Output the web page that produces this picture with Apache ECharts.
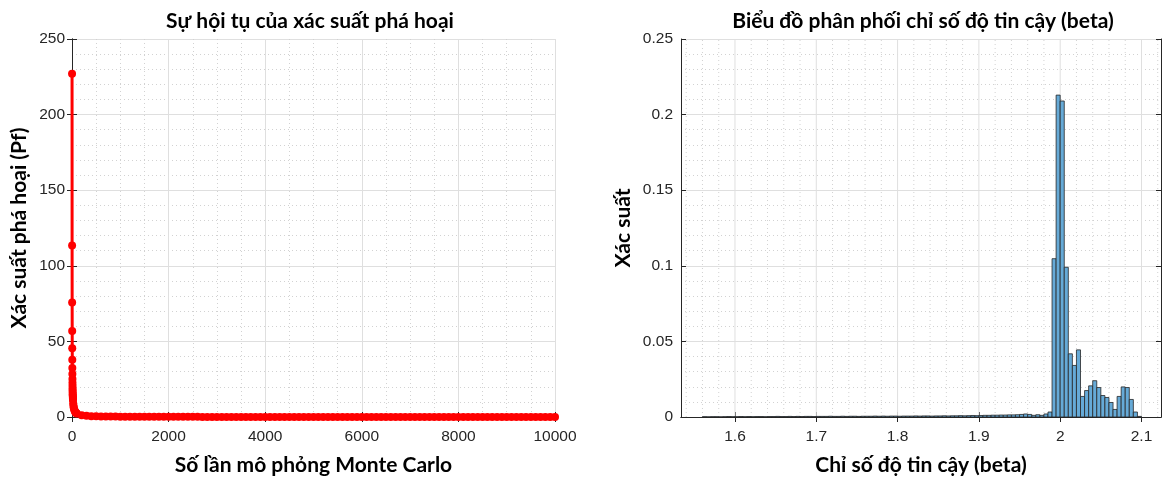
<!DOCTYPE html>
<html><head><meta charset="utf-8">
<script src="https://cdn.jsdelivr.net/npm/echarts@6/dist/echarts.min.js"></script>
<style>html,body{margin:0;padding:0;background:#fff}#c{width:1164px;height:481px}</style>
</head><body><div id="c"></div>
<script>
// ---------- DATA ----------
const leftTitle = 'Sự hội tụ của xác suất phá hoại';
const leftXName = 'Số lần mô phỏng Monte Carlo';
const leftYName = 'Xác suất phá hoại (Pf)';
const rightTitle = 'Biểu đồ phân phối chỉ số độ tin cậy (beta)';
const rightXName = 'Chỉ số độ tin cậy (beta)';
const rightYName = 'Xác suất';

// Monte Carlo convergence: number of runs and estimated Pf
const runCounts = [1,2,3,4,5,6,7,8,9,10,11,12,13,14,15,16,17,18,19,20,25,30,35,40,50,60,70,80,90,
  100,200,300,400,500,600,700,800,900,1000,1100,1200,1300,1400,1500,1600,1700,1800,1900,2000,
  2100,2200,2300,2400,2500,2600,2700,2800,2900,3000,3100,3200,3300,3400,3500,3600,3700,3800,3900,4000,
  4100,4200,4300,4400,4500,4600,4700,4800,4900,5000,5100,5200,5300,5400,5500,5600,5700,5800,5900,6000,
  6100,6200,6300,6400,6500,6600,6700,6800,6900,7000,7100,7200,7300,7400,7500,7600,7700,7800,7900,8000,
  8100,8200,8300,8400,8500,8600,8700,8800,8900,9000,9100,9200,9300,9400,9500,9600,9700,9800,9900,10000];
const pfValues = [227,113.5,75.7,56.8,45.4,37.8,32.4,28.4,25.2,22.7,20.6,18.9,17.5,16.2,15.1,14.2,13.4,12.6,11.9,11.4,9.1,7.6,6.5,5.7,4.5,3.8,3.2,2.8,2.5,
  2.27,1.14,0.76,0.57,0.45,0.38,0.32,0.28,0.25,0.23,0.21,0.19,0.17,0.16,0.15,0.14,0.13,0.13,0.12,0.11,
  0.11,0.10,0.10,0.09,0.09,0.09,0.08,0.08,0.08,0.08,0.07,0.07,0.07,0.07,0.06,0.06,0.06,0.06,0.06,0.06,
  0.06,0.05,0.05,0.05,0.05,0.05,0.05,0.05,0.05,0.05,0.04,0.04,0.04,0.04,0.04,0.04,0.04,0.04,0.04,0.04,
  0.04,0.04,0.04,0.04,0.04,0.03,0.03,0.03,0.03,0.03,0.03,0.03,0.03,0.03,0.03,0.03,0.03,0.03,0.03,0.03,
  0.03,0.03,0.03,0.03,0.03,0.03,0.03,0.03,0.03,0.02,0.02,0.02,0.02,0.02,0.02,0.02,0.02,0.02,0.02,0.02];

// Histogram of beta: first bin edge, bin width, probability per bin
const betaBinStart = 1.56;
const betaBinWidth = 0.005;
const betaProb = [
  0.0002,0.0001,0.0002,0.0002,0.0001,0.0002,0.0003,0.0002,0.0002,0.0003,
  0.0002,0.0003,0.0002,0.0003,0.0003,0.0002,0.0003,0.0003,0.0004,0.0003,
  0.0003,0.0004,0.0003,0.0004,0.0003,0.0004,0.0004,0.0003,0.0004,0.0004,
  0.0004,0.0005,0.0004,0.0004,0.0005,0.0004,0.0005,0.0005,0.0004,0.0005,
  0.0005,0.0005,0.0006,0.0005,0.0006,0.0005,0.0006,0.0006,0.0005,0.0006,
  0.0006,0.0006,0.0007,0.0006,0.0007,0.0007,0.0006,0.0007,0.0007,0.0008,
  0.0007,0.0008,0.0008,0.0009,0.0008,0.0009,0.0010,0.0009,
  0.0010,0.0011,0.0011,0.0012,0.0012,0.0013,0.0013,0.0014,0.0014,0.0015,
  0.0017,0.0020,0.0017,0.0011,0.0015,0.0011,0.0020,0.0033,
  0.1047,0.2129,0.2090,0.0990,0.0418,0.0341,0.0444,0.0136,0.0175,0.0206,
  0.0240,0.0195,0.0142,0.0129,0.0096,0.0050,0.0136,0.0199,0.0195,0.0116,
  0.0033,0.0004];

const leftXTicks = {min:0, max:10000, interval:2000};
const leftYTicks = {min:0, max:250, interval:50};
const rightXRange = {min:1.5336, max:2.124};
const rightXTickLabels = [1.6,1.7,1.8,1.9,2.0,2.1];
const rightYTicks = {min:0, max:0.25, interval:0.05};

// ---------- BUILD ----------
const chart = echarts.init(document.getElementById('c'), null, {renderer:'canvas'});
const AX = '#262626';
const TICKFONT = {color:AX, fontFamily:'Liberation Sans', fontSize:15.5};
const NAMEFONT = {color:'#000', fontFamily:'Lato', fontWeight:'bold', fontSize:21};
const majorGrid = {show:true, lineStyle:{color:'#dfdfdf', width:1}};
const minorGrid = {show:true, lineStyle:{color:'#d2d2d2', width:1, type:[1,3]}};
const plainNum = v => String(+(+v).toFixed(4));

const lineData = runCounts.map((n,i)=>[n, pfValues[i]]);
const histData = betaProb.map((p,i)=>[betaBinStart + i*betaBinWidth, betaBinStart + (i+1)*betaBinWidth, p]);

// right-chart vertical grid positions (major = labelled ticks, minor = 0.02 steps)
const rMinor = [];
for (let k = 77; k <= 106; k++) { const v = +(k*0.02).toFixed(2); if (v > rightXRange.min && v < rightXRange.max && Math.abs(v*10 - Math.round(v*10)) > 1e-6) rMinor.push(v); }
const vGridData = rightXTickLabels.map(v=>[v,1]).concat(rMinor.map(v=>[v,0]));

const boxAxisCommon = {axisLine:{show:true, lineStyle:{color:AX, width:1}}, axisLabel:{show:false}, splitLine:{show:false}};

chart.setOption({
  animation:false,
  backgroundColor:'#fff',
  grid:[
    {left:72, top:39, width:483, height:380, containLabel:false},
    {left:681, top:39, width:480, height:380, containLabel:false}
  ],
  xAxis:[
    {gridIndex:0, type:'value', min:leftXTicks.min, max:leftXTicks.max, interval:leftXTicks.interval,
     position:'bottom', axisLine:{show:true, onZero:false, lineStyle:{color:AX}},
     axisTick:{show:true, inside:true, length:5, lineStyle:{color:AX}},
     axisLabel:Object.assign({margin:12, formatter:plainNum}, TICKFONT),
     splitLine:majorGrid, minorTick:{show:false, splitNumber:4}, minorSplitLine:minorGrid,
     name:leftXName, nameLocation:'middle', nameGap:38, nameTextStyle:NAMEFONT},
    Object.assign({gridIndex:0, type:'value', min:leftXTicks.min, max:leftXTicks.max, interval:leftXTicks.interval, position:'top',
     axisTick:{show:true, inside:true, length:5, lineStyle:{color:AX}}}, boxAxisCommon),
    {gridIndex:1, type:'value', min:rightXRange.min, max:rightXRange.max,
     position:'bottom', axisLine:{show:true, onZero:false, lineStyle:{color:AX}},
     axisTick:{show:true, inside:true, length:5, lineStyle:{color:AX}, customValues:rightXTickLabels},
     axisLabel:Object.assign({margin:12, customValues:rightXTickLabels, formatter:plainNum}, TICKFONT),
     splitLine:{show:false}, minorTick:{show:false}, minorSplitLine:{show:false},
     name:rightXName, nameLocation:'middle', nameGap:38, nameTextStyle:NAMEFONT},
    Object.assign({gridIndex:1, type:'value', min:rightXRange.min, max:rightXRange.max, position:'top',
     axisTick:{show:true, inside:true, length:5, lineStyle:{color:AX}, customValues:rightXTickLabels}}, boxAxisCommon)
  ],
  yAxis:[
    {gridIndex:0, type:'value', min:leftYTicks.min, max:leftYTicks.max, interval:leftYTicks.interval,
     position:'left', axisLine:{show:true, onZero:false, lineStyle:{color:AX}},
     axisTick:{show:true, inside:true, length:5, lineStyle:{color:AX}},
     axisLabel:Object.assign({margin:7, formatter:plainNum}, TICKFONT),
     splitLine:majorGrid, minorTick:{show:false, splitNumber:5}, minorSplitLine:minorGrid,
     name:leftYName, nameLocation:'middle', nameGap:42, nameTextStyle:NAMEFONT},
    Object.assign({gridIndex:0, type:'value', min:leftYTicks.min, max:leftYTicks.max, interval:leftYTicks.interval, position:'right',
     axisTick:{show:true, inside:true, length:5, lineStyle:{color:AX}}}, boxAxisCommon),
    {gridIndex:1, type:'value', min:rightYTicks.min, max:rightYTicks.max, interval:rightYTicks.interval,
     position:'left', axisLine:{show:true, onZero:false, lineStyle:{color:AX}},
     axisTick:{show:true, inside:true, length:5, lineStyle:{color:AX}},
     axisLabel:Object.assign({margin:8, formatter:plainNum}, TICKFONT),
     splitLine:majorGrid, minorTick:{show:false, splitNumber:5}, minorSplitLine:minorGrid,
     name:rightYName, nameLocation:'middle', nameGap:47, nameTextStyle:NAMEFONT},
    Object.assign({gridIndex:1, type:'value', min:rightYTicks.min, max:rightYTicks.max, interval:rightYTicks.interval, position:'right',
     axisTick:{show:true, inside:true, length:5, lineStyle:{color:AX}}}, boxAxisCommon)
  ],
  graphic:[
    {type:'text', x:310, y:21, style:{text:leftTitle, fill:'#000', font:'bold 21px Lato', align:'center', verticalAlign:'middle'}},
    {type:'text', x:923, y:21, style:{text:rightTitle, fill:'#000', font:'bold 21px Lato', align:'center', verticalAlign:'middle'}}
  ],
  series:[
    {type:'line', xAxisIndex:0, yAxisIndex:0, data:lineData, showAllSymbol:true, symbol:'circle', symbolSize:8,
     lineStyle:{color:'#ff0000', width:3}, itemStyle:{color:'#ff0000'}, z:5, clip:false},
    {type:'custom', xAxisIndex:2, yAxisIndex:2, data:vGridData, z:1, silent:true,
     renderItem:(params, api)=>{
       const v = api.value(0), major = api.value(1);
       const a = api.coord([v, rightYTicks.min]), b = api.coord([v, rightYTicks.max]);
       return {type:'line', shape:{x1:a[0], y1:a[1], x2:b[0], y2:b[1]},
         style: major ? {stroke:'#dfdfdf', lineWidth:1} : {stroke:'#d2d2d2', lineWidth:1, lineDash:[1,3]}};
     }},
    {type:'custom', xAxisIndex:2, yAxisIndex:2, data:histData, encode:{x:[0,1], y:2}, z:3,
     renderItem:(params, api)=>{
       const p0 = api.coord([api.value(0), api.value(2)]);
       const p1 = api.coord([api.value(1), 0]);
       return {type:'rect', shape:{x:p0[0], y:p0[1], width:p1[0]-p0[0], height:p1[1]-p0[1]},
         style:{fill:'#66aad7', stroke:'#262626', lineWidth:0.8}};
     }}
  ]
});
</script></body></html>
